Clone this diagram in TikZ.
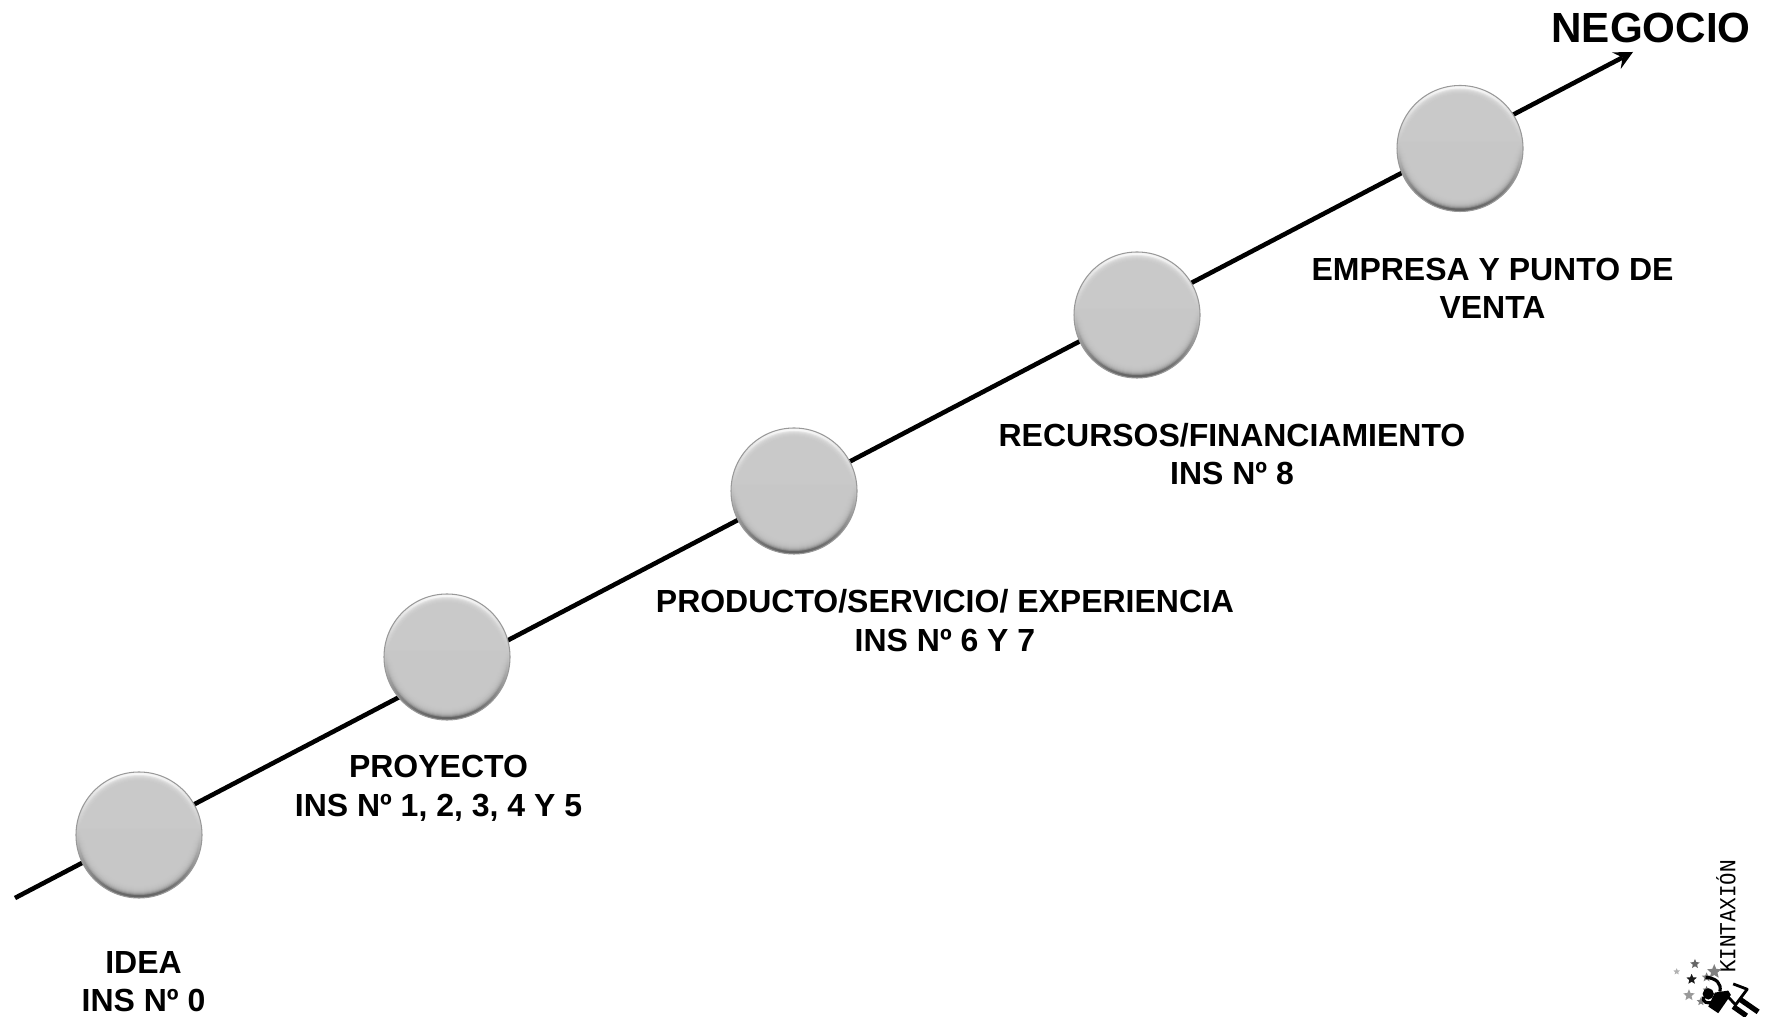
\documentclass[tikz,border=0pt]{standalone}
\usepackage{fontspec}
\setmainfont{Liberation Sans}
\setmonofont{DejaVu Sans Mono}
\usetikzlibrary{shapes.geometric}
\definecolor{stagegray}{HTML}{C9C9C9}
\tikzset{
	stage/.style={circle,inner sep=0pt,minimum size=1.26cm,draw=gray!80,line width=0.3pt,
		top color=white!97!black,bottom color=black!62,middle color=black!24,
		path picture={\foreach \Rad in {0.60,0.59,...,0.50} \fill[stagegray,opacity=0.35] (path picture bounding box.center) circle[radius=\Rad] ;}},
	stagelabel/.style={align=center,font=\bfseries\fontsize{9.1pt}{10.95pt}\selectfont,inner sep=0pt},
	logostar/.style={star,star points=5,star point ratio=2.2,inner sep=0pt}
}
\begin{document}
\begin{tikzpicture}[line join=round]
		\useasboundingbox (0,0) rectangle (17.73,10.16) ;
		\coordinate (Start) at (0.15,1.18) ; \coordinate (End) at (16.33,9.64) ;
		\draw[line width=1.3pt,-stealth] (Start) -- (End) ;
		\foreach \Point/\Pos in {Idea/{1.39,1.81},Proyecto/{4.47,3.59},Producto/{7.94,5.25},Recursos/{11.37,7.01},Empresa/{14.6,8.675}} \node[stage] (\Point) at (\Pos) {} ;
		\node[stagelabel] (IdeaText) at (1.435,0.345) {IDEA\\INS Nº 0} ;
		\node[stagelabel] (ProyectoText) at (4.385,2.275) {PROYECTO\\INS Nº 1, 2, 3, 4 Y 5} ;
		\node[stagelabel] (ProductoText) at (9.45,3.952) {PRODUCTO/SERVICIO/ EXPERIENCIA\\INS Nº 6 Y 7} ;
		\node[stagelabel] (RecursosText) at (12.32,5.62) {RECURSOS/FINANCIAMIENTO\\INS Nº 8} ;
		\node[stagelabel] (EmpresaText) at (14.925,7.277) {EMPRESA Y PUNTO DE\\VENTA} ;
		\node[font=\bfseries\fontsize{12pt}{14pt}\selectfont,inner sep=0pt] (Negocio) at (16.51,9.88) {NEGOCIO} ;
		% logo
		\node[rotate=90,font=\ttfamily\fontsize{5.9pt}{7pt}\selectfont,inner sep=0pt] (LogoText) at (17.26,0.995) {KINTAXIÓN} ;
		\begin{scope}[shift={(16.65,0.66)},x=0.00333cm,y=-0.00333cm]
			\foreach \Point/\Size/\Shade [count=\n] in {{90,42}/0.1/60,{148,65}/0.15/50,{35,65}/0.07/30,{80,88}/0.11/90,{72,136}/0.12/40,{125,82}/0.1/50,{108,155}/0.09/50,{125,120}/0.08/60} \node[logostar,fill=black!\Shade,minimum size=\Size cm] (Star\n) at (\Point) {} ;
			\fill (130,132) circle[radius=17] ;
			\fill (150,128) -- (190,122) -- (198,135) -- (160,190) -- (130,170) -- cycle ;
			\draw[line width=0.9pt] (122,82) .. controls (155,85) and (170,100) .. (165,125) ;
			\draw[line width=0.9pt] (115,140) .. controls (112,155) and (125,165) .. (145,155) ;
			\draw[line width=0.8pt] (205,102) -- (247,118) -- (212,165) -- (178,128) ;
			\draw[line width=1.5pt] (225,148) -- (280,186) ;
			\draw[line width=1.5pt] (205,170) -- (245,198) ;
		\end{scope}
	\end{tikzpicture}
\end{document}
